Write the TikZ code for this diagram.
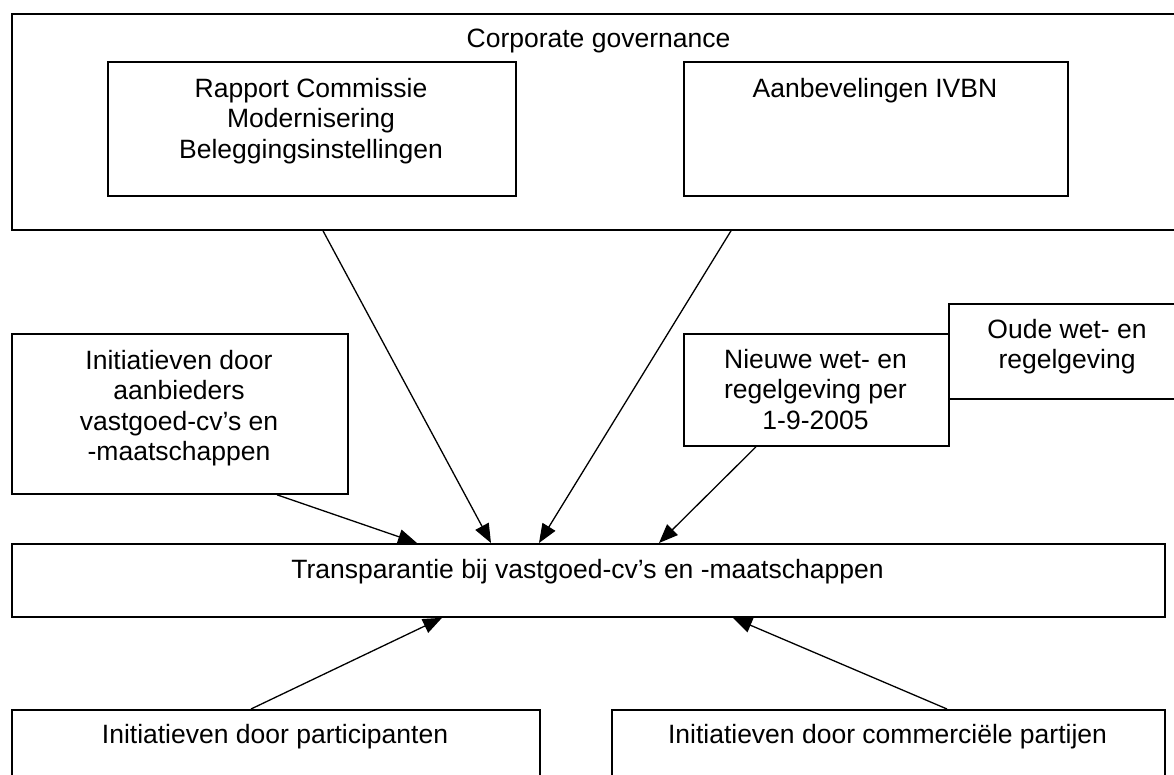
\documentclass[tikz,border=0pt]{standalone}
\usepackage{fontspec}
\setmainfont{Liberation Sans}
\usetikzlibrary{arrows.meta}

\begin{document}
\begin{tikzpicture}[x=1pt, y=-1pt,
  box/.style={draw, rectangle, line width=1.8pt, inner sep=0pt, anchor=north west},
  lbl/.style={anchor=base, inner sep=0pt, font=\fontsize{26.5}{30.5}\selectfont},
  conn/.style={line width=1.3pt, -{Triangle[length=19pt, width=15pt]}}]

  % canvas
  \path[use as bounding box] (0,0) rectangle (1174,774);
  \fill[white] (0,0) rectangle (1174,774);
  \clip (0,0) rectangle (1174,774);

  % corporate governance frame with its two sources
  \node[box, minimum width=1175pt, minimum height=216pt] (cg) at (11,13) {};
  \node[lbl] (cg-t) at (598.5,47) {Corporate governance};

  \node[box, minimum width=408pt, minimum height=134pt] (rapport) at (107,61) {};
  \node[lbl] (rapport-t) at (311,97)
    {\begin{tabular}[t]{@{}c@{}}Rapport Commissie\\Modernisering\\Beleggingsinstellingen\end{tabular}};

  \node[box, minimum width=384pt, minimum height=134pt] (ivbn) at (683,61) {};
  \node[lbl] (ivbn-t) at (875,97) {Aanbevelingen IVBN};

  % middle row
  \node[box, minimum width=336pt, minimum height=160pt] (aanb) at (11,333) {};
  \node[lbl] (aanb-t) at (179,369)
    {\begin{tabular}[t]{@{}c@{}}Initiatieven door\\aanbieders\\vastgoed-cv’s en\\-maatschappen\end{tabular}};

  \node[box, minimum width=238pt, minimum height=95pt] (oud) at (948,303) {};
  \node[lbl] (oud-t) at (1067,338)
    {\begin{tabular}[t]{@{}c@{}}Oude wet- en\\regelgeving\end{tabular}};

  \node[box, minimum width=265pt, minimum height=112pt, fill=white] (nieuw) at (683,333) {};
  \node[lbl] (nieuw-t) at (815.5,368)
    {\begin{tabular}[t]{@{}c@{}}Nieuwe wet- en\\regelgeving per\\1-9-2005\end{tabular}};

  % central box
  \node[box, minimum width=1153pt, minimum height=73pt] (trans) at (11,543) {};
  \node[lbl] (trans-t) at (587.5,578) {Transparantie bij vastgoed-cv’s en -maatschappen};

  % bottom row
  \node[box, minimum width=528pt, minimum height=90pt] (part) at (11,709) {};
  \node[lbl] (part-t) at (275,743) {Initiatieven door participanten};

  \node[box, minimum width=553pt, minimum height=90pt] (comm) at (611,709) {};
  \node[lbl] (comm-t) at (887.5,743) {Initiatieven door commerciële partijen};

  % influences on transparency
  \draw[conn] ([xshift=312pt]cg.south west)     -- ([xshift=480pt]trans.north west);
  \draw[conn] ([xshift=720pt]cg.south west)     -- ([xshift=528pt]trans.north west);
  \draw[conn] ([xshift=73pt]nieuw.south west)   -- ([xshift=648pt]trans.north west);
  \draw[conn] ([xshift=266pt]aanb.south west)   -- ([xshift=406pt]trans.north west);
  \draw[conn] ([xshift=240pt]part.north west)   -- ([xshift=431pt]trans.south west);
  \draw[conn] ([xshift=336pt]comm.north west)   -- ([xshift=722pt]trans.south west);
\end{tikzpicture}
\end{document}
